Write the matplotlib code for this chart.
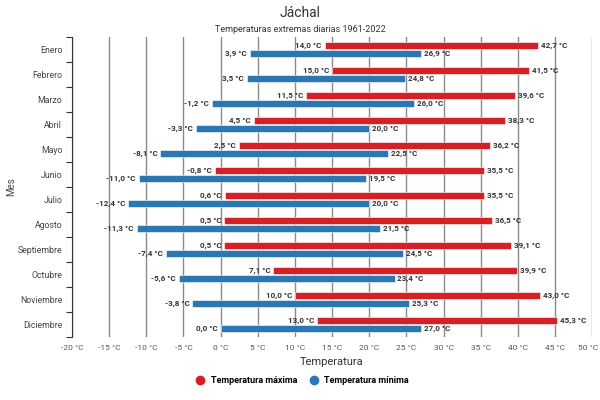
import matplotlib
matplotlib.use("Agg")
import matplotlib.pyplot as plt
import numpy as np
from matplotlib.lines import Line2D

plt.rcParams["font.family"] = ["Roboto", "DejaVu Sans"]

months = ["Enero", "Febrero", "Marzo", "Abril", "Mayo", "Junio", "Julio",
          "Agosto", "Septiembre", "Octubre", "Noviembre", "Diciembre"]
max_low = [14.0, 15.0, 11.5, 4.5, 2.5, -0.8, 0.6, 0.5, 0.5, 7.1, 10.0, 13.0]
max_high = [42.7, 41.5, 39.6, 38.3, 36.2, 35.5, 35.5, 36.5, 39.1, 39.9, 43.0, 45.3]
min_low = [3.9, 3.5, -1.2, -3.3, -8.1, -11.0, -12.4, -11.3, -7.4, -5.6, -3.8, 0.0]
min_high = [26.9, 24.8, 26.0, 20.0, 22.5, 19.5, 20.0, 21.5, 24.5, 23.4, 25.3, 27.0]
xticks = list(range(-20, 55, 5))

RED = "#d42027"
BLUE = "#2a77b1"


def fmt(v):
    return f"{v:.1f} °C".replace(".", ",")


fig = plt.figure(figsize=(6, 4), dpi=100)
ax = fig.add_axes([0.12, 0.1575, 0.867, 0.75])

y = np.arange(len(months))
off, h = 0.17, 0.28
ax.set_xlim(-20, 50)
ax.set_ylim(len(months) - 0.5, -0.5)

for x in xticks:
    ax.axvline(x, color="#8a8a8a", lw=1.0, zorder=0)

series = ((max_low, max_high, RED, -off), (min_low, min_high, BLUE, off))
for lo, hi, col, dy in series:
    lo = np.array(lo)
    hi = np.array(hi)
    ax.barh(y + dy, hi - lo, left=lo, height=h, color=col,
            edgecolor="white", linewidth=0.4, zorder=2)
    for yi, a, b in zip(y + dy, lo, hi):
        ax.text(a - 0.4, yi, fmt(a), ha="right", va="center", fontsize=5.8,
                fontweight="bold", color="#333333", zorder=3)
        ax.text(b + 0.4, yi, fmt(b), ha="left", va="center", fontsize=5.8,
                fontweight="bold", color="#333333", zorder=3)

ax.set_yticks(y)
ax.set_yticklabels(months, fontsize=6.3, color="#444444")
ax.set_yticks(np.arange(-0.5, len(months) + 0.5, 1), minor=True)
ax.tick_params(axis="y", which="major", length=0, pad=7)
ax.tick_params(axis="y", which="minor", length=4, color="#333333", width=0.8)

# last tick label is kept inside the figure, as in the original
ax.set_xticks(xticks)
ax.set_xticklabels([f"{t} °C" for t in xticks[:-1]] + [""], fontsize=6, color="#555555")
ax.tick_params(axis="x", length=0, pad=6)
ax.annotate(f"{xticks[-1]} °C", xy=(xticks[-1], 0), xycoords=("data", "axes fraction"),
            xytext=(4, -6), textcoords="offset points", ha="right", va="top",
            fontsize=6, color="#555555")

for s in ("top", "right", "bottom"):
    ax.spines[s].set_visible(False)
ax.spines["left"].set_color("#333333")
ax.spines["left"].set_linewidth(0.8)

ax.set_xlabel("Temperatura", fontsize=8, color="#333333", labelpad=4)
ax.set_ylabel("Mes", fontsize=7, color="#444444")
ax.yaxis.set_label_coords(-0.108, 0.5)

fig.text(0.5, 0.968, "Jáchal", ha="center", va="center", fontsize=10, color="#333333")
fig.text(0.5, 0.927, "Temperaturas extremas diarias 1961-2022", ha="center",
         va="center", fontsize=6.5, color="#333333")

handles = [Line2D([], [], marker="o", ls="", color=RED, markersize=6),
           Line2D([], [], marker="o", ls="", color=BLUE, markersize=6)]
fig.legend(handles, ["Temperatura máxima", "Temperatura mínima"],
           loc="center", bbox_to_anchor=(0.5, 0.048), ncol=2, frameon=False,
           handletextpad=0.2, columnspacing=0.8,
           prop={"weight": "bold", "size": 6.5})

fig.savefig("out.png", dpi=100)
